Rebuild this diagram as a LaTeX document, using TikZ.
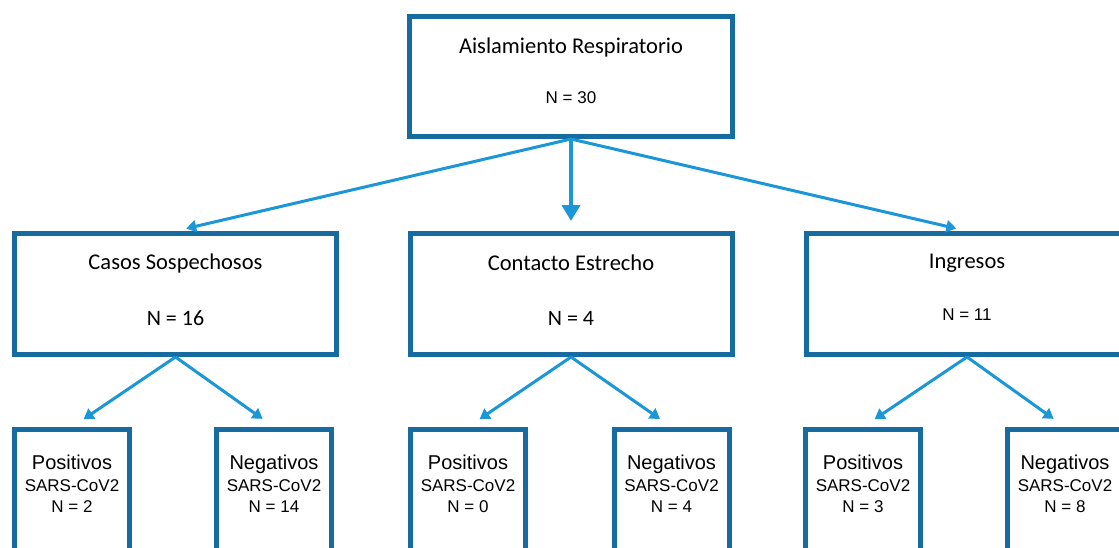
\documentclass[tikz,border=0pt]{standalone}
\usepackage{fontspec}
\setmainfont{Carlito}
\newfontfamily\arialfont{Liberation Sans}
\usetikzlibrary{positioning,arrows.meta}

\definecolor{boxblue}{RGB}{22,108,160}
\definecolor{arrowblue}{RGB}{27,150,215}

\tikzset{
  groupbox/.style={draw=boxblue, line width=5pt, minimum width=322pt, minimum height=121pt},
  leafbox/.style={draw=boxblue, line width=5pt, minimum width=115pt, minimum height=160pt, anchor=north},
  heading/.style={inner sep=0pt, font=\fontsize{22.5}{26}\selectfont},
  bigcount/.style={inner sep=0pt, font=\fontsize{22}{26}\selectfont},
  count/.style={inner sep=0pt, font=\arialfont\fontsize{17}{20}\selectfont},
  leaftext/.style={inner sep=0pt, align=center, font=\arialfont\fontsize{17}{21.5}\selectfont},
  link/.style={draw=arrowblue, line width=3pt, -{Triangle[length=10pt, width=12pt]}},
  mainlink/.style={draw=arrowblue, line width=4.5pt, -{Triangle[length=16pt, width=18pt]}}
}

\begin{document}
\begin{tikzpicture}[x=1pt, y=-1pt]

    \useasboundingbox (0,0) rectangle (1119,547);
    \clip (0,0) rectangle (1119,547);

    % Define nodes
    \node[groupbox, minimum width=323pt, minimum height=120pt] (ar) at (571,76.5) {};
    \node[groupbox] (cs)  at (175.5,294) {};
    \node[groupbox] (ce)  at (571,294) {};
    \node[groupbox] (ing) at (967,294) {};

    % leaves
    \node[leafbox] (cspos)  at (72,427) {};
    \node[leafbox] (csneg)  at (274,427) {};
    \node[leafbox] (cepos)  at (468,427) {};
    \node[leafbox] (ceneg)  at (671.5,427) {};
    \node[leafbox] (ingpos) at (863,427) {};
    \node[leafbox] (ingneg) at (1065,427) {};

    % Texts
    \node[heading] (ar-t) at ([yshift=29.5pt]ar.center) {Aislamiento Respiratorio};
    \node[count]   (ar-n) at ([yshift=-21.5pt]ar.center) {N = 30};
    \node[heading] (cs-t) at ([yshift=31pt]cs.center) {Casos Sospechosos};
    \node[bigcount] (cs-n) at ([yshift=-24pt]cs.center) {N = 16};
    \node[heading] (ce-t) at ([yshift=31pt]ce.center) {Contacto Estrecho};
    \node[bigcount] (ce-n) at ([yshift=-24pt]ce.center) {N = 4};
    \node[heading] (ing-t) at ([yshift=31pt]ing.center) {Ingresos};
    \node[count]   (ing-n) at ([yshift=-21pt]ing.center) {N = 11};

    \node[leaftext] (cspos-t)  at ([yshift=-57pt]cspos.north)  {{\fontsize{20}{22}\selectfont Positivos}\\SARS-CoV2\\N = 2};
    \node[leaftext] (csneg-t)  at ([yshift=-57pt]csneg.north)  {{\fontsize{20}{22}\selectfont Negativos}\\SARS-CoV2\\N = 14};
    \node[leaftext] (cepos-t)  at ([yshift=-57pt]cepos.north)  {{\fontsize{20}{22}\selectfont Positivos}\\SARS-CoV2\\N = 0};
    \node[leaftext] (ceneg-t)  at ([yshift=-57pt]ceneg.north)  {{\fontsize{20}{22}\selectfont Negativos}\\SARS-CoV2\\N = 4};
    \node[leaftext] (ingpos-t) at ([yshift=-57pt]ingpos.north) {{\fontsize{20}{22}\selectfont Positivos}\\SARS-CoV2\\N = 3};
    \node[leaftext] (ingneg-t) at ([yshift=-57pt]ingneg.north) {{\fontsize{20}{22}\selectfont Negativos}\\SARS-CoV2\\N = 8};

    % Connect the nodes
    \draw[link, shorten >=11pt] (ar.south) -- (cs.north);
    \draw[mainlink, shorten >=10pt] (ar.south) -- (ce.north);
    \draw[link, shorten >=11pt] (ar.south) -- (ing.north);

    \draw[link, shorten >=14pt] (cs.south) -- (cspos.north);
    \draw[link, shorten >=14pt] (cs.south) -- (csneg.north);
    \draw[link, shorten >=14pt] (ce.south) -- (cepos.north);
    \draw[link, shorten >=14pt] (ce.south) -- (ceneg.north);
    \draw[link, shorten >=14pt] (ing.south) -- (ingpos.north);
    \draw[link, shorten >=14pt] (ing.south) -- (ingneg.north);

\end{tikzpicture}
\end{document}
